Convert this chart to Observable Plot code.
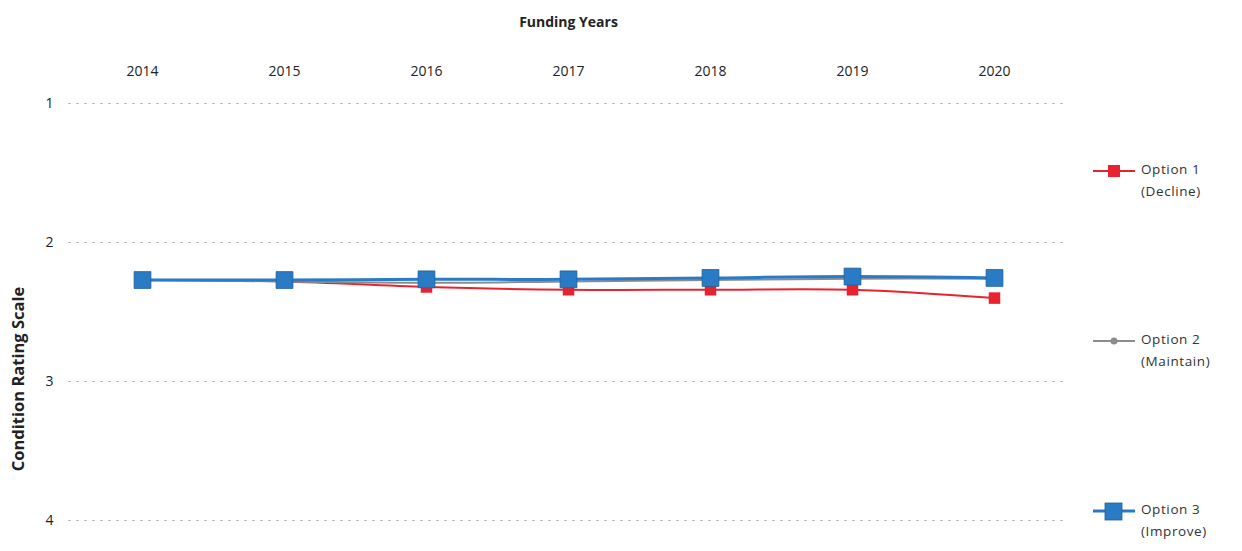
<!DOCTYPE html>
<html>
<head>
<meta charset="utf-8">
<script src="https://cdn.jsdelivr.net/npm/d3@7"></script>
<script src="https://cdn.jsdelivr.net/npm/@observablehq/plot@0.6"></script>
<style>
  html, body { margin: 0; padding: 0; background: #fff; }
  #wrap { position: relative; width: 1242px; height: 551px; font-family: "Open Sans", sans-serif; }
  .leg { position: absolute; left: 1093px; display: flex; align-items: flex-start; font-size: 13.5px; color: #333; letter-spacing: 0.6px; line-height: 22px; }
  .leg svg { margin-top: 3px; margin-right: 4px; }
</style>
</head>
<body>
<div id="wrap"></div>
<script>
const years = [2014, 2015, 2016, 2017, 2018, 2019, 2020];
const option1 = [2.27, 2.28, 2.32, 2.34, 2.34, 2.34, 2.40];
const option2 = [2.27, 2.28, 2.29, 2.28, 2.27, 2.26, 2.26];
const option3 = [2.27, 2.27, 2.265, 2.265, 2.255, 2.245, 2.255];
const yTicks = [1, 2, 3, 4];
const seriesNames = ["Option 1", "Option 2", "Option 3"];
const seriesSub = ["(Decline)", "(Maintain)", "(Improve)"];
const colors = ["#e8232f", "#8c8c8c", "#2a7bc6"];

const toRows = (vals, name) => years.map((y, i) => ({year: y, value: vals[i], series: name}));
const d1 = toRows(option1, seriesNames[0]);
const d2 = toRows(option2, seriesNames[1]);
const d3r = toRows(option3, seriesNames[2]);

const plot = Plot.plot({
  width: 1242,
  height: 551,
  marginTop: 103,
  marginBottom: 31,
  marginLeft: 68,
  marginRight: 174,
  style: {fontFamily: "Open Sans, sans-serif", fontSize: "14px", color: "#222", background: "#fff"},
  x: {type: "point", domain: years, padding: 0.5},
  y: {domain: [1, 4], reverse: true},
  marks: [
    Plot.ruleY(yTicks, {stroke: "#bdbdbd", strokeDasharray: "3,5", strokeWidth: 1}),
    Plot.axisX({anchor: "top", tickSize: 0, tickPadding: 28, tickFormat: d => String(d), label: null, fontSize: 14}),
    Plot.axisY({ticks: yTicks, tickSize: 0, tickPadding: 15, tickFormat: d => String(d), label: null, fontSize: 14}),
    Plot.text(["Funding Years"], {frameAnchor: "top", dy: -86, fontWeight: "bold", fontSize: 14, fill: "#222"}),
    Plot.text(["Condition Rating Scale"], {frameAnchor: "left", textAnchor: "middle", dx: -50, dy: 67, rotate: -90, fontWeight: "bold", fontSize: 16.5, fill: "#222"}),
    Plot.line(d1, {x: "year", y: "value", stroke: colors[0], strokeWidth: 2, curve: "catmull-rom"}),
    Plot.dot(d1, {x: "year", y: "value", symbol: "square", r: 6.5, fill: colors[0]}),
    Plot.line(d2, {x: "year", y: "value", stroke: colors[1], strokeWidth: 2, curve: "catmull-rom"}),
    Plot.dot(d2, {x: "year", y: "value", r: 3.5, fill: colors[1]}),
    Plot.line(d3r, {x: "year", y: "value", stroke: colors[2], strokeWidth: 3, curve: "catmull-rom"}),
    Plot.dot(d3r, {x: "year", y: "value", symbol: "square", r: 9.5, fill: colors[2], stroke: "#1f5f9a", strokeWidth: 0.8})
  ]
});

const wrap = document.getElementById("wrap");
wrap.appendChild(plot);

const legTops = [158, 328, 498];
const markers = [
  `<line x1="0" y1="10" x2="42" y2="10" stroke="${colors[0]}" stroke-width="2"/><rect x="15" y="4" width="12" height="12" fill="${colors[0]}"/>`,
  `<line x1="0" y1="10" x2="42" y2="10" stroke="${colors[1]}" stroke-width="2"/><circle cx="21" cy="10" r="3.5" fill="${colors[1]}"/>`,
  `<line x1="0" y1="10" x2="42" y2="10" stroke="${colors[2]}" stroke-width="3"/><rect x="12" y="2" width="17" height="17" fill="${colors[2]}" stroke="#1f5f9a" stroke-width="0.8"/>`
];
seriesNames.forEach((name, i) => {
  const div = document.createElement("div");
  div.className = "leg";
  div.style.top = legTops[i] + "px";
  div.innerHTML = `<svg width="44" height="20">${markers[i]}</svg><div>${name}<br>${seriesSub[i]}</div>`;
  wrap.appendChild(div);
});
</script>
</body>
</html>
